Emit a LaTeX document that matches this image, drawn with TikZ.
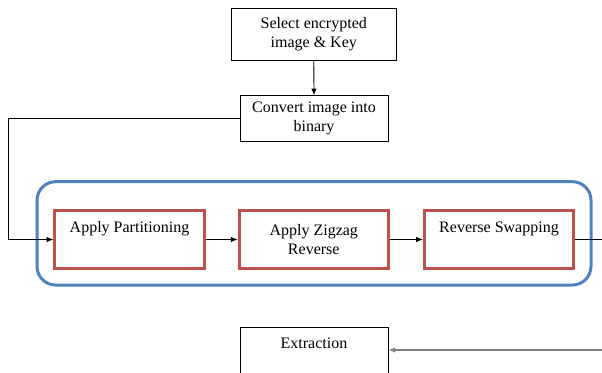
\documentclass[tikz,border=0pt]{standalone}
\usepackage{fontspec}
\setmainfont{Liberation Serif}
\usetikzlibrary{arrows.meta}
\definecolor{Brick}{HTML}{C0504D}
\definecolor{Steel}{HTML}{4F81BD}
\definecolor{Ash}{HTML}{7F7F7F}
\tikzset{
  plain/.style={draw,line width=0.6pt,align=center,inner sep=2pt},
  stagebox/.style={draw=Brick,line width=2.25pt,fill=white,align=center,inner sep=2pt,minimum width=112pt,minimum height=43.2pt},
  flow/.style={line width=0.6pt,-{Latex[length=5pt,width=4pt]}}
}

\begin{document}
\begin{tikzpicture}[x=0.75pt,y=-0.75pt,font=\fontsize{12}{14.4}\selectfont]
  \clip (0,0) rectangle (602,372);
  \node[plain,minimum width=123.4pt,minimum height=38.8pt] (sel) at (313.75,34.15) {Select encrypted\\image \& Key};
  \node[plain,minimum width=111pt,minimum height=34pt] (conv) at (314,118.35) {Convert image into\\binary};
  \node[draw=Steel,line width=2.25pt,rounded corners=14pt,minimum width=415.5pt,minimum height=77.5pt] (grp) at (314,233.35) {};
  \node[stagebox] (part) at (129.5,239.5) {Apply Partitioning\\\strut};
  \node[stagebox] (zig) at (313.75,239.5) {Apply Zigzag\\Reverse};
  \node[stagebox] (swap) at (499,239.5) {Reverse Swapping\\\strut};
  \node[plain,minimum width=111pt,minimum height=43.2pt] (ext) at (314,355.8) {Extraction\\\strut};
  \coordinate (lft) at (8.5,0);
  \coordinate (rgt) at (602,350);
  \draw[flow] (sel) -- (conv);
  \draw[flow] (conv.west) -- (lft |- conv.west) -- (lft |- part.west) -- (part.west);
  \draw[flow] (part) -- (zig);
  \draw[flow] (zig) -- (swap);
  \draw[line width=0.6pt] (swap.east) -- (swap.east -| rgt);
  \draw[flow,Ash,line width=1.5pt] (rgt) -- (rgt -| ext.east);
\end{tikzpicture}
\end{document}
